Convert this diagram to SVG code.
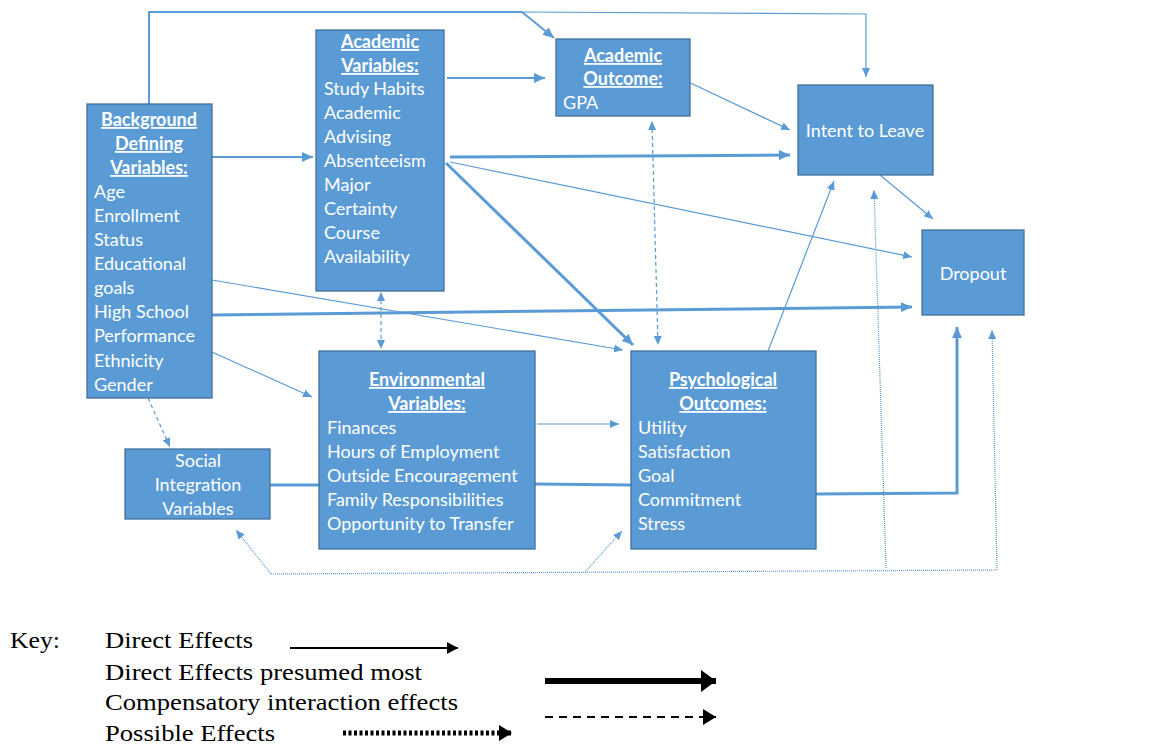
<svg xmlns="http://www.w3.org/2000/svg" width="1156" height="744" viewBox="0 0 1156 744">
<style>
.box{fill:#5B9BD5;stroke:#41719C;stroke-width:1.3}
.t{font-family:Lato,"Liberation Sans",sans-serif;font-size:18px;fill:#fff}
.h{font-weight:bold;text-decoration:underline;text-anchor:middle}
.c{text-anchor:middle}
.l{fill:none;stroke:#5B9BD5}
.thin{stroke-width:1.2}
.med{stroke-width:2}
.thick{stroke-width:3}
.dash{stroke-dasharray:4 3}
.dot{stroke-dasharray:1 1}
.k{font-family:"Liberation Serif",serif;font-size:24px;fill:#000}
</style>
<defs>
<marker id="a1" markerUnits="userSpaceOnUse" markerWidth="10" markerHeight="8" refX="9" refY="4" orient="auto"><path d="M0,0L9,4L0,8z" fill="#5B9BD5"/></marker>
<marker id="a1s" markerUnits="userSpaceOnUse" markerWidth="10" markerHeight="8" refX="1" refY="4" orient="auto"><path d="M9,0L0,4L9,8z" fill="#5B9BD5"/></marker>
<marker id="a2" markerUnits="userSpaceOnUse" markerWidth="12" markerHeight="10" refX="11" refY="5" orient="auto"><path d="M0,0L11,5L0,10z" fill="#5B9BD5"/></marker>
<marker id="kb1" markerUnits="userSpaceOnUse" markerWidth="12" markerHeight="12" refX="11" refY="6" orient="auto"><path d="M0,0L11,6L0,12z" fill="#000"/></marker>
<marker id="kb2" markerUnits="userSpaceOnUse" markerWidth="16" markerHeight="22" refX="15" refY="11" orient="auto"><path d="M0,0L15,11L0,22z" fill="#000"/></marker>
<marker id="kb3" markerUnits="userSpaceOnUse" markerWidth="14" markerHeight="16" refX="13" refY="8" orient="auto"><path d="M0,0L13,8L0,16z" fill="#000"/></marker>
</defs>

<g id="connectors">
<path class="l med" d="M149,104V12H522"/>
<path class="l med" d="M522,12L554,38" marker-end="url(#a2)"/>
<path class="l thin" d="M522,12L866,14V77" marker-end="url(#a1)"/>
<path class="l med" d="M212,157H313" marker-end="url(#a2)"/>
<path class="l med" d="M447,78H545" marker-end="url(#a2)"/>
<path class="l thick" d="M450,157L790,155" marker-end="url(#a2)"/>
<path class="l thin" d="M682,79L790,130" marker-end="url(#a1)"/>
<path class="l thin" d="M450,162L912,257" marker-end="url(#a1)"/>
<path class="l thick" d="M446,163L633,345" marker-end="url(#a2)"/>
<path class="l thin" d="M212,280L623,350" marker-end="url(#a1)"/>
<path class="l thick" d="M212,315L912,307" marker-end="url(#a2)"/>
<path class="l thin" d="M212,352L312,397" marker-end="url(#a1)"/>
<path class="l thin dash" d="M148,398L170,447" marker-end="url(#a1)"/>
<path class="l thin dash" d="M381,293V349" marker-start="url(#a1s)" marker-end="url(#a1)"/>
<path class="l thin dash" d="M652,122L658,345" marker-start="url(#a1s)" marker-end="url(#a1)"/>
<path class="l thin" d="M537,424H619" marker-end="url(#a1)"/>
<path class="l thick" d="M270,485H319"/>
<path class="l thick" d="M535,484L631,485"/>
<path class="l thick" d="M816,494L957,493V327" marker-end="url(#a2)"/>
<path class="l thin" d="M768,351L834,181" marker-end="url(#a1)"/>
<path class="l thin" d="M880,175L933,219" marker-end="url(#a1)"/>
<path class="l thin dot" d="M271,574L997,570"/>
<path class="l thin dot" d="M271,574L236,530" marker-end="url(#a1)"/>
<path class="l thin dot" d="M585,572L622,531" marker-end="url(#a1)"/>
<path class="l thin dot" d="M886,568L874,190" marker-end="url(#a1)"/>
<path class="l thin dot" d="M997,570L992,330" marker-end="url(#a1)"/>
</g>

<g id="background">
<rect class="box" x="87" y="104" width="125" height="294"/>
<text class="t h" x="149" y="126">Background</text>
<text class="t h" x="149" y="150">Defining</text>
<text class="t h" x="149" y="174">Variables:</text>
<text class="t" x="94" y="198">Age</text>
<text class="t" x="94" y="222">Enrollment</text>
<text class="t" x="94" y="246">Status</text>
<text class="t" x="94" y="270">Educational</text>
<text class="t" x="94" y="294">goals</text>
<text class="t" x="94" y="318">High School</text>
<text class="t" x="94" y="342">Performance</text>
<text class="t" x="94" y="367">Ethnicity</text>
<text class="t" x="94" y="391">Gender</text>
</g>

<g id="academic-variables">
<rect class="box" x="316" y="30" width="128" height="261"/>
<text class="t h" x="380" y="48">Academic</text>
<text class="t h" x="380" y="72">Variables:</text>
<text class="t" x="324" y="95">Study Habits</text>
<text class="t" x="324" y="119">Academic</text>
<text class="t" x="324" y="143">Advising</text>
<text class="t" x="324" y="167">Absenteeism</text>
<text class="t" x="324" y="191">Major</text>
<text class="t" x="324" y="215">Certainty</text>
<text class="t" x="324" y="239">Course</text>
<text class="t" x="324" y="263">Availability</text>
</g>

<g id="academic-outcome">
<rect class="box" x="556" y="39" width="134" height="77"/>
<text class="t h" x="623" y="62">Academic</text>
<text class="t h" x="623" y="85">Outcome:</text>
<text class="t" x="563" y="109">GPA</text>
</g>

<g id="intent">
<rect class="box" x="798" y="85" width="135" height="90"/>
<text class="t c" x="865" y="137">Intent to Leave</text>
</g>

<g id="dropout">
<rect class="box" x="922" y="230" width="102" height="85"/>
<text class="t c" x="973" y="280">Dropout</text>
</g>

<g id="social">
<rect class="box" x="125" y="449" width="145" height="70"/>
<text class="t c" x="198" y="467">Social</text>
<text class="t c" x="198" y="491">Integration</text>
<text class="t c" x="198" y="515">Variables</text>
</g>

<g id="environmental">
<rect class="box" x="319" y="351" width="216" height="198"/>
<text class="t h" x="427" y="386">Environmental</text>
<text class="t h" x="427" y="410">Variables:</text>
<text class="t" x="327" y="434">Finances</text>
<text class="t" x="327" y="458">Hours of Employment</text>
<text class="t" x="327" y="482">Outside Encouragement</text>
<text class="t" x="327" y="506">Family Responsibilities</text>
<text class="t" x="327" y="530">Opportunity to Transfer</text>
</g>

<g id="psychological">
<rect class="box" x="631" y="351" width="185" height="198"/>
<text class="t h" x="723" y="386">Psychological</text>
<text class="t h" x="723" y="410">Outcomes:</text>
<text class="t" x="638" y="434">Utility</text>
<text class="t" x="638" y="458">Satisfaction</text>
<text class="t" x="638" y="482">Goal</text>
<text class="t" x="638" y="506">Commitment</text>
<text class="t" x="638" y="530">Stress</text>
</g>

<g id="key">
<text class="k" x="10" y="648" textLength="50" lengthAdjust="spacingAndGlyphs">Key:</text>
<text class="k" x="105" y="648" textLength="148" lengthAdjust="spacingAndGlyphs">Direct Effects</text>
<text class="k" x="105" y="680" textLength="317" lengthAdjust="spacingAndGlyphs">Direct Effects presumed most</text>
<text class="k" x="105" y="710" textLength="353" lengthAdjust="spacingAndGlyphs">Compensatory interaction effects</text>
<text class="k" x="105" y="741" textLength="170" lengthAdjust="spacingAndGlyphs">Possible Effects</text>
<path d="M290,648H458" stroke="#000" stroke-width="2" marker-end="url(#kb1)"/>
<path d="M545,681H716" stroke="#000" stroke-width="6" marker-end="url(#kb2)"/>
<path d="M545,717H716" stroke="#000" stroke-width="2" stroke-dasharray="8 6" marker-end="url(#kb3)"/>
<path d="M343,733H512" stroke="#000" stroke-width="5" stroke-dasharray="3 2.5" marker-end="url(#kb3)"/>
</g>
</svg>
